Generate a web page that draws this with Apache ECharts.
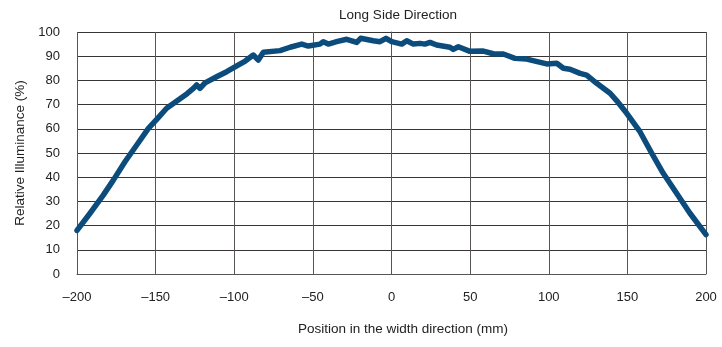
<!DOCTYPE html>
<html><head><meta charset="utf-8">
<script src="https://cdn.jsdelivr.net/npm/echarts@6/dist/echarts.min.js"></script>
<style>html,body{margin:0;padding:0;background:#fff}#c{width:722px;height:347px}</style>
</head><body><div id="c"></div>
<script>
const title = "Long Side Direction";
const xName = "Position in the width direction (mm)";
const yName = "Relative Illuminance (%)";
const positions = [-200,-191.7,-183.3,-176.9,-169.5,-162,-154.6,-149.3,-143,-135.6,-130,-126,-123.9,-121.8,-118.6,-111.2,-104.8,-98.4,-93,-87.9,-84.7,-81.5,-70.9,-64.5,-57.1,-52.9,-45.5,-43.4,-40.2,-34.9,-28.5,-22.1,-19.6,-11.6,-7.3,-3.5,0.1,6.5,9.7,13.9,18.1,21.3,24.5,28.7,37.2,39.3,42.5,49.9,58.4,64.7,71.1,78.5,86,98.7,105.1,109.3,113.5,119.9,124.1,130.5,139,144,149.6,158,165.5,172.8,181.4,189.8,200];
const illuminance = [18,25.1,32.6,38.8,46.4,53.3,60.2,63.9,68.5,71.9,74.5,76.7,78.1,76.7,79,81.5,83.6,86,88,90.5,88.4,91.6,92.3,93.7,95,94.2,95,96,95,96,97,95.7,97.4,96.4,96,97.4,96,95,96.4,95,95.3,95,95.7,94.6,93.7,92.8,93.9,92,92.1,91,90.9,89.1,88.8,86.8,87.1,85,84.6,82.9,82.2,78.8,74.7,71,66.4,58.8,49.9,41.6,33.3,25.1,16.3];

const chart = echarts.init(document.getElementById('c'));
const font = 'Liberation Sans, Arial, sans-serif';
chart.setOption({
  animation: false,
  title: {text: title, left: 393, top: 3, textAlign: 'center',
    textStyle: {fontFamily: font, fontSize: 13.5, fontWeight: 'normal', color: '#222'}},
  grid: {left: 77, right: 16, top: 32, bottom: 73},
  xAxis: {
    type: 'value', min: -200, max: 200, interval: 50,
    name: xName, nameLocation: 'middle', nameGap: 48,
    nameTextStyle: {fontFamily: font, fontSize: 13.5, color: '#222', padding: [0, 0, 0, 23]},
    axisLine: {show: true, lineStyle: {color: '#555', width: 1}},
    axisTick: {show: false},
    axisLabel: {margin: 17, fontFamily: font, fontSize: 13, color: '#222',
      formatter: v => String(v).replace('-', '\u2013')},
    splitLine: {show: true, lineStyle: {color: '#5a5555', width: 1}}
  },
  yAxis: {
    type: 'value', min: 0, max: 100, interval: 10,
    name: yName, nameLocation: 'middle', nameGap: 50, nameRotate: 90,
    nameTextStyle: {fontFamily: font, fontSize: 13.5, color: '#222'},
    axisLine: {show: true, lineStyle: {color: '#555', width: 1}},
    axisTick: {show: false},
    axisLabel: {margin: 17, fontFamily: font, fontSize: 13, color: '#222'},
    splitLine: {show: true, lineStyle: {color: '#3a3535', width: 1}}
  },
  series: [{
    type: 'line',
    data: positions.map((p, i) => [p, illuminance[i]]),
    showSymbol: false,
    lineStyle: {color: '#0b4c7d', width: 5.5, join: 'round', cap: 'round'},
    itemStyle: {color: '#0b4c7d'}
  }]
});
</script>
</body></html>
